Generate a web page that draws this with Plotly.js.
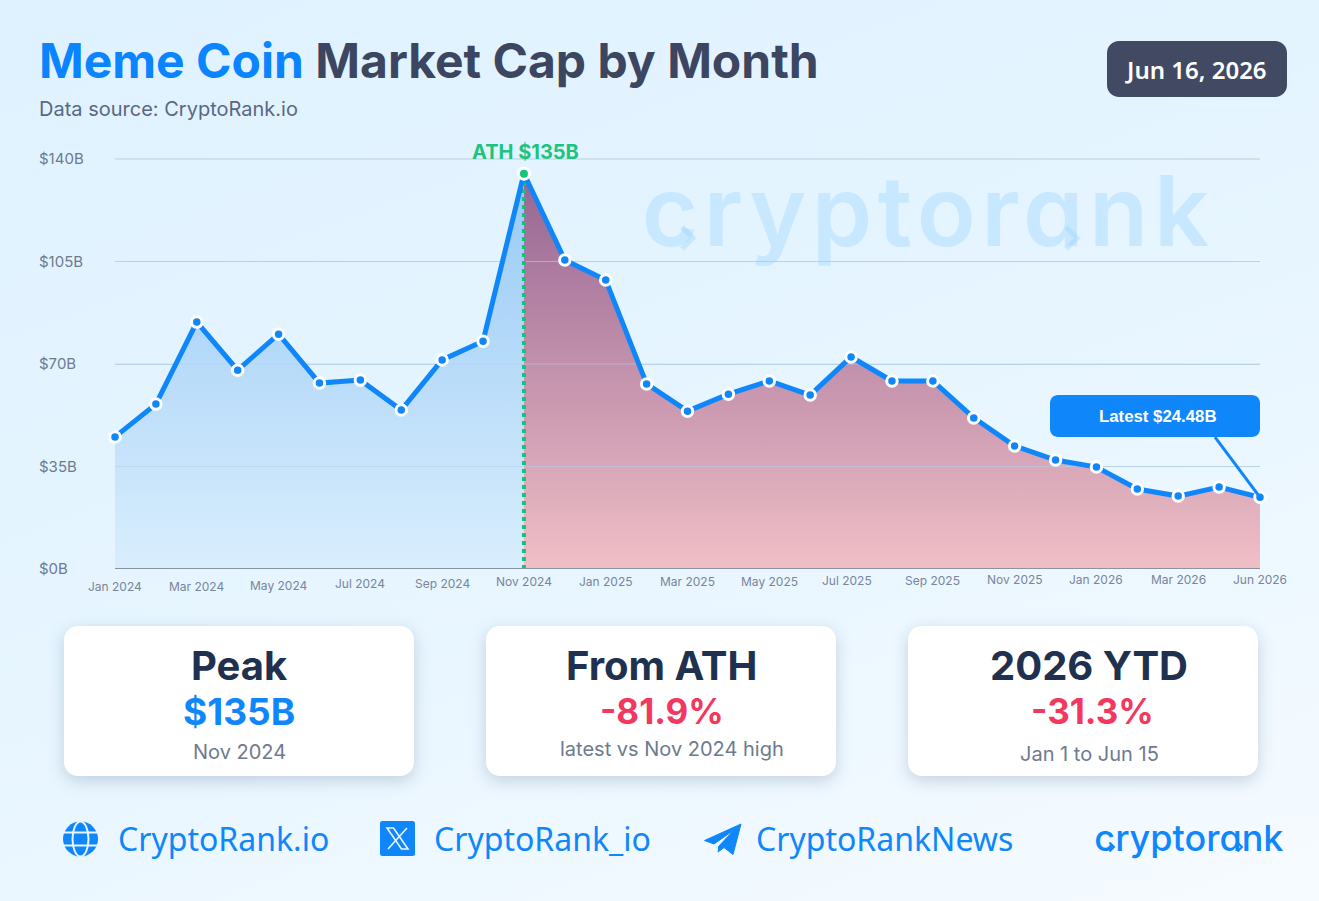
<!DOCTYPE html>
<html><head><meta charset="utf-8">
<script src="https://cdn.plot.ly/plotly-3.0.1.min.js"></script>
<style>
html,body{margin:0;padding:0;width:1319px;height:901px;overflow:hidden}
body{background:linear-gradient(160deg,#dff2ff 0%,#e6f5ff 50%,#f6fbff 100%);position:relative}
.card{position:absolute;top:626px;width:350px;height:150px;background:#fff;border-radius:14px;box-shadow:0 5px 16px rgba(70,100,130,.25)}
#chart{position:absolute;left:0;top:0;width:1319px;height:901px}
svg.ic{position:absolute}
</style></head><body>
<div class="card" style="left:64px"></div>
<div class="card" style="left:486px"></div>
<div class="card" style="left:908px"></div>
<div id="chart"></div>
<svg class="ic" style="left:62px;top:821px" width="37" height="36" viewBox="0 0 37 36">
 <circle cx="18.5" cy="18" r="17.5" fill="#0f87fb"/>
 <g fill="none" stroke="#eaf6ff" stroke-width="2"><ellipse cx="18.5" cy="18" rx="8" ry="17.5"/><path d="M1 11.5H36M1 24.5H36"/></g>
</svg>
<svg class="ic" style="left:380px;top:821px" width="35" height="35" viewBox="0 0 35 35">
 <rect width="35" height="35" rx="2.5" fill="#0f87fb"/>
 <path d="M7 7H13.5L28 28H21.5Z" fill="none" stroke="#eaf6ff" stroke-width="1.6"/><path d="M27 7L8 28" stroke="#eaf6ff" stroke-width="1.6"/>
</svg>
<svg class="ic" style="left:704px;top:823px" width="38" height="33" viewBox="0 0 38 33">
 <path d="M37 1L0.5 17.5L10 21L30 7L14.5 23.5V27L14 29L20 24.5L29 31.5Z" fill="#0f87fb" stroke="#0f87fb" stroke-linejoin="round"/>
</svg>
<script>
const months=["Jan 2024","Feb 2024","Mar 2024","Apr 2024","May 2024","Jun 2024","Jul 2024","Aug 2024","Sep 2024","Oct 2024","Nov 2024","Dec 2024","Jan 2025","Feb 2025","Mar 2025","Apr 2025","May 2025","Jun 2025","Jul 2025","Aug 2025","Sep 2025","Oct 2025","Nov 2025","Dec 2025","Jan 2026","Feb 2026","Mar 2026","Apr 2026","Jun 2026"];
const marketCap=[45.1,56.3,84.3,67.9,80.2,63.5,64.5,54.3,71.4,77.8,135,105.5,98.7,63.2,53.9,59.7,64.2,59.4,72.4,64.2,64.2,51.6,42,37.2,34.8,27.3,24.9,28,24.48];
const xTickIdx=[0,2,4,6,8,10,12,14,16,18,20,22,24,26,28];
const yTickVals=[0,35,70,105,140];
const yTickText=["$0B","$35B","$70B","$105B","$140B"];
const athIdx=10;
const xIdx=months.map((_,i)=>i);
// tick label baseline drift of the original artwork (pixels)
const xLabelY=[586,586,585,583,583,581,581,581,581,580,580,579,579,579,579];
const xLabelShift=[0,0,0,0,0,0,0,0,0,-4,0,0,0,0,0];

const W=1319,H=901;
const px=x=>x/W, py=y=>1-y/H;
const lineBlue="#0f87fb";
const watermark='rgba(150,212,255,.36)';
const txt=(text,x,y,size,color,weight,family,anchor)=>({text,xref:'paper',yref:'paper',x:px(x),y:py(y),showarrow:false,
  xanchor:anchor||'center',yanchor:'middle',font:{size,color,weight:weight||400,family:family||'Inter'}});
const rr=(x0,y0,x1,y1,r)=>{const X=px,Y=py;
  const k=r*0.45;
  return `M${X(x0+r)} ${Y(y0)} L${X(x1-r)} ${Y(y0)} C${X(x1-k)} ${Y(y0)} ${X(x1)} ${Y(y0+k)} ${X(x1)} ${Y(y0+r)} L${X(x1)} ${Y(y1-r)} C${X(x1)} ${Y(y1-k)} ${X(x1-k)} ${Y(y1)} ${X(x1-r)} ${Y(y1)} L${X(x0+r)} ${Y(y1)} C${X(x0+k)} ${Y(y1)} ${X(x0)} ${Y(y1-k)} ${X(x0)} ${Y(y1-r)} L${X(x0)} ${Y(y0+r)} C${X(x0)} ${Y(y0+k)} ${X(x0+k)} ${Y(y0)} ${X(x0+r)} ${Y(y0)} Z`;};
const chevron=(tx,ty,s,color,w)=>({type:'path',xref:'paper',yref:'paper',layer:'above',
  path:`M${px(tx-s)} ${py(ty-s)} L${px(tx)} ${py(ty)} L${px(tx-s)} ${py(ty+s)}`,line:{color,width:w},fillcolor:'rgba(0,0,0,0)'});

const traces=[
 {x:xIdx.slice(0,athIdx+1),y:marketCap.slice(0,athIdx+1),mode:'none',type:'scatter',fill:'tozeroy',
  fillgradient:{type:'vertical',colorscale:[[0,'#d9eefd'],[1,'#98c9f6']]},hoverinfo:'skip',showlegend:false},
 {x:xIdx.slice(athIdx),y:marketCap.slice(athIdx),mode:'none',type:'scatter',fill:'tozeroy',
  fillgradient:{type:'vertical',colorscale:[[0,'#f0bfc6'],[1,'#966593']]},hoverinfo:'skip',showlegend:false}
];
yTickVals.slice(1,4).forEach(v=>traces.push({x:[0,28],y:[v,v],mode:'lines',type:'scatter',line:{color:'rgba(180,208,236,.6)',width:1},hoverinfo:'skip',showlegend:false}));
traces.push({x:[athIdx,athIdx],y:[0,marketCap[athIdx]],mode:'lines',type:'scatter',line:{color:'#14c47a',width:4,dash:'4px,4px'},hoverinfo:'skip',showlegend:false});
traces.push({x:xIdx,y:marketCap,mode:'lines+markers',type:'scatter',cliponaxis:false,showlegend:false,
  line:{color:lineBlue,width:5,shape:'linear'},marker:{size:10.5,color:lineBlue,line:{color:'#fff',width:3}}});
traces.push({x:[athIdx],y:[marketCap[athIdx]],mode:'markers',type:'scatter',cliponaxis:false,showlegend:false,
  marker:{size:11,color:'#14c47a',line:{color:'#fff',width:3}}});

const annotations=[
 txt('Data source: CryptoRank.io',37,109,20,'#5a6880',400,'Inter','left'),
 txt('Jun 16, 2026',1196,69,24,'#ffffff',600,'Noto Sans'),
 txt('ATH $135B',525,152,20,'#1cc47f',700,'Inter'),
 txt('Latest $24.48B',1158,416.5,16.8,'#ffffff',700,'Liberation Sans'),
 txt('cryptorank',928,210,97,watermark,600,'Inter'),
 txt('Peak',239,665,40,'#20304f',700),
 txt('$135B',239,711,37,'#0f87fb',700),
 txt('Nov 2024',239,752,20,'#6d7a90',400),
 txt('From ATH',661,665,40,'#20304f',700),
 txt('-81.9%',662,711,35,'#f2385f',700),
 txt('latest vs Nov 2024 high',672,749,20,'#6d7a90',400),
 txt('2026 YTD',1089,665,40,'#20304f',700),
 txt('-31.3%',1092.5,711,35,'#f2385f',700),
 txt('Jan 1 to Jun 15',1089,754,20,'#6d7a90',400),
 txt('CryptoRank.io',116,838,32,lineBlue,400,'Noto Sans','left'),
 txt('CryptoRank_io',432,838,32,lineBlue,400,'Noto Sans','left'),
 txt('CryptoRankNews',754,838,32,lineBlue,400,'Noto Sans','left'),
 txt('cryptorank',1189,838,36,lineBlue,500,'Inter')
];
xTickIdx.forEach((idx,i)=>annotations.push({text:months[idx],xref:'x',yref:'paper',x:idx,y:py(xLabelY[i]),xshift:xLabelShift[i],showarrow:false,
  xanchor:'center',yanchor:'middle',font:{size:12,color:'#78859b',family:'Inter'}}));
yTickVals.forEach((v,i)=>annotations.push({text:yTickText[i],xref:'paper',yref:'y',x:px(37),y:v,yshift:0.5,showarrow:false,
  xanchor:'left',yanchor:'middle',font:{size:15,color:'#6d7a90',family:'Inter'}}));

const shapes=[
 {type:'path',xref:'paper',yref:'paper',path:rr(1107,41,1287,97,12),fillcolor:'#424a63',line:{width:0}},
 {type:'line',xref:'paper',yref:'paper',x0:px(115),x1:px(1260),y0:py(159),y1:py(159),line:{color:'#cfe0ee',width:2},layer:'below'},
 {type:'line',xref:'x',yref:'y',x0:0,x1:28,y0:0,y1:0,line:{color:'#8893a6',width:2},layer:'above'},
 chevron(693,238,11,watermark,5),
 chevron(1077,238,11,watermark,5),
 chevron(1114,847,4.5,lineBlue,2),
 chevron(1242,847,4.5,lineBlue,2),
 {type:'line',xref:'x',yref:'y',x0:28,y0:marketCap[28],x1:26.9,y1:45,line:{color:lineBlue,width:3},layer:'above'},
 {type:'path',xref:'paper',yref:'paper',path:rr(1050,395,1260,437,8),fillcolor:lineBlue,line:{width:0},layer:'above'}
];

const layout={
 width:W,height:H,margin:{l:0,r:0,t:0,b:0},paper_bgcolor:'rgba(0,0,0,0)',plot_bgcolor:'rgba(0,0,0,0)',showlegend:false,
 title:{text:'<span style="color:#0a84ff">Meme Coin</span> Market Cap by Month',x:px(39),xanchor:'left',y:py(61),yanchor:'middle',
   font:{family:'Inter',size:48,weight:700,color:'#3d4660'}},
 xaxis:{domain:[px(115),px(1260)],range:[0,28],showgrid:false,zeroline:false,showticklabels:false,ticks:'',showline:false,fixedrange:true},
 yaxis:{domain:[py(569),py(159)],range:[0,140],tickmode:'array',tickvals:yTickVals.slice(1,4),showticklabels:false,ticks:'',gridcolor:'#bdd4e7',gridwidth:1,
   zeroline:false,showline:false,fixedrange:true},
 shapes,annotations
};
Plotly.newPlot('chart',traces,layout,{displayModeBar:false,staticPlot:true}).then(gd=>{
  gd.querySelectorAll('.annotation-text').forEach(t=>{
    if(t.textContent==='cryptorank'){
      t.style.fontFeatureSettings='"cv11"';
      t.style.letterSpacing=parseFloat(t.style.fontSize)>50?'5.5px':'0px';
    }
  });
});
</script>
</body></html>
